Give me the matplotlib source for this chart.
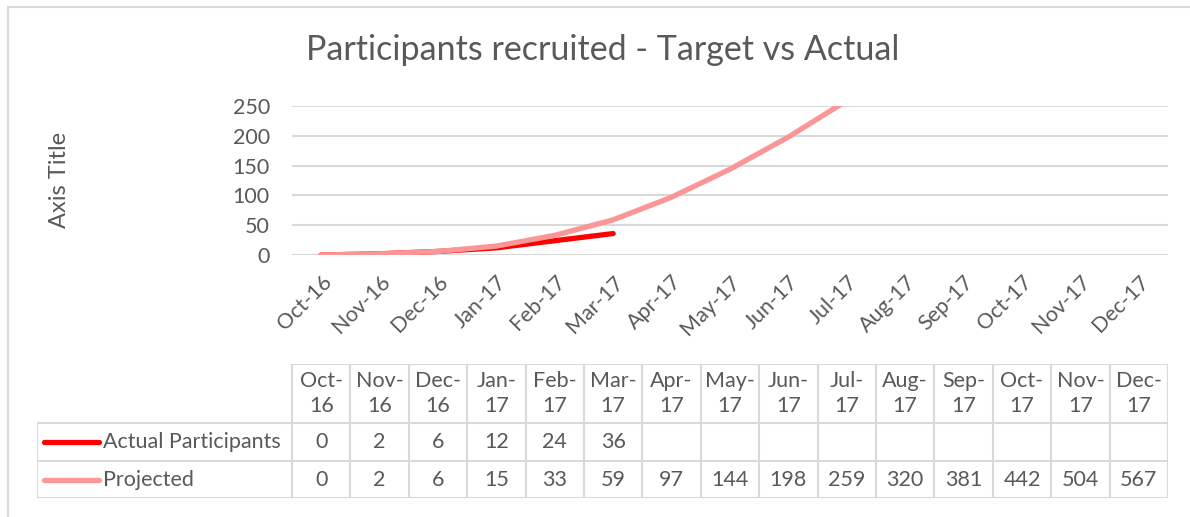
import numpy as np
import matplotlib.pyplot as plt
from matplotlib.patches import Rectangle
from matplotlib.lines import Line2D

months = ['Oct-16', 'Nov-16', 'Dec-16', 'Jan-17', 'Feb-17', 'Mar-17', 'Apr-17', 'May-17',
          'Jun-17', 'Jul-17', 'Aug-17', 'Sep-17', 'Oct-17', 'Nov-17', 'Dec-17']
actual = [0, 2, 6, 12, 24, 36]
projected = [0, 2, 6, 15, 33, 59, 97, 144, 198, 259, 320, 381, 442, 504, 567]
series_names = ['Actual Participants', 'Projected']
series_colors = ['#ff0000', '#fa9696']

plt.rcParams['font.family'] = ['Lato', 'DejaVu Sans']
txt = '#595959'
grid = '#d9d9d9'
W, H = 1190, 517
fs = 15.5

fig = plt.figure(figsize=(W / 100, H / 100), dpi=100)

# chart border (left/top visible, rest runs off the picture)
fig.patches.append(Rectangle((8 / W, -0.02), 1.05, 1 - 7 / H + 0.02, transform=fig.transFigure,
                             fill=False, edgecolor=grid, lw=1.5))

n = len(months)
x = np.arange(n)
ax = fig.add_axes([292 / W, 1 - 255 / H, (1168 - 292) / W, (255 - 106) / H])
ax.plot(x[:len(actual)], actual, color=series_colors[0], lw=3.8, solid_capstyle='round', zorder=3)
ax.plot(x, projected, color=series_colors[1], lw=3.8, solid_capstyle='round', zorder=4)
ax.set_xlim(-0.5, n - 0.5)
ax.set_ylim(0, 250)
ax.set_yticks(range(0, 251, 50))
ax.yaxis.grid(True, color=grid, lw=1.5)
ax.set_axisbelow(True)
for s in ax.spines.values():
    s.set_visible(False)
ax.tick_params(length=0, labelsize=fs, colors=txt)
ax.tick_params(axis='y', pad=16)
ax.set_xticks(x)
ax.set_xticklabels(months, rotation=45, ha='right', rotation_mode='anchor')
ax.tick_params(axis='x', pad=12)

fig.text(603 / W, 1 - 50 / H, 'Participants recruited - Target vs Actual', ha='center', va='center',
         fontsize=24.5, color=txt)
fig.text(60 / W, 1 - 180 / H, 'Axis Title', rotation=90, ha='center', va='center', fontsize=17, color=txt)

# data table under the chart, same x scale as the plot
col_w = (1168 - 292) / n
left_extra = (292 - 37) / col_w
tb = fig.add_axes([37 / W, 1 - 498 / H, (1168 - 37) / W, (498 - 364) / H])
tb.set_xlim(-0.5 - left_extra, n - 0.5)
tb.set_ylim(0, 134)
tb.axis('off')
y_top, y_h1, y_r1, y_bot = 134, 134 - 59, 134 - 97, 0

tb.plot([-0.5, n - 0.5], [y_top, y_top], color=grid, lw=1.5)
for yy in (y_h1, y_r1, y_bot):
    tb.plot([-0.5 - left_extra, n - 0.5], [yy, yy], color=grid, lw=1.5)
for k in range(n + 1):
    tb.plot([k - 0.5, k - 0.5], [y_bot, y_top], color=grid, lw=1.5)
tb.plot([-0.5 - left_extra] * 2, [y_bot, y_h1], color=grid, lw=1.5)

for i, m in enumerate(months):
    tb.text(i, (y_top + y_h1) / 2, m.replace('-', '-\n'), ha='center', va='center',
            fontsize=fs, color=txt, linespacing=1.3)
    if i < len(actual):
        tb.text(i, (y_h1 + y_r1) / 2, str(actual[i]), ha='center', va='center', fontsize=fs, color=txt)
    tb.text(i, (y_r1 + y_bot) / 2, str(projected[i]), ha='center', va='center', fontsize=fs, color=txt)

for j, (name, col) in enumerate(zip(series_names, series_colors)):
    yc = (y_h1 + y_r1) / 2 if j == 0 else (y_r1 + y_bot) / 2
    x0 = -0.5 - left_extra
    tb.add_line(Line2D([x0 + 7 / col_w, x0 + 62 / col_w], [yc, yc], color=col, lw=3.8,
                       solid_capstyle='round'))
    tb.text(x0 + 66 / col_w, yc, name, ha='left', va='center', fontsize=fs, color=txt)

fig.savefig('out.png', dpi=100)
